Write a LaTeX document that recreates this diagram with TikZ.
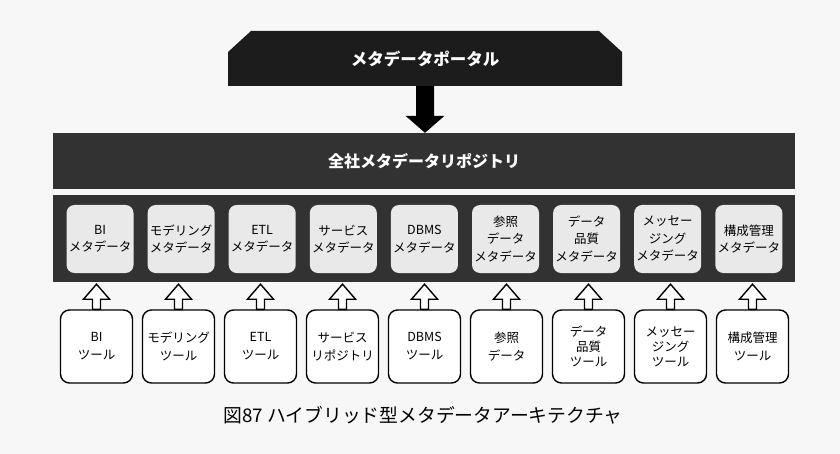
\documentclass[tikz,border=0pt]{standalone}
\usepackage{fontspec}
\setmainfont{Noto Sans CJK JP}
\usepackage{tikz}
\usetikzlibrary{calc}

\definecolor{portalGray}{HTML}{1C1C1C}
\definecolor{barGray}{HTML}{323232}
\definecolor{boxGray}{HTML}{E9E9E9}
\definecolor{paper}{HTML}{F7F7F7}

\tikzset{
  metaBox/.style={fill=boxGray, rounded corners=8pt, minimum width=67pt, minimum height=68pt,
    inner sep=0pt, align=center, font=\fontsize{12.5}{17.5}\selectfont},
  toolBox/.style={draw, line width=1.4pt, fill=white, rounded corners=9pt, minimum width=72pt,
    minimum height=73pt, inner sep=0pt, align=center, font=\fontsize{12.5}{18}\selectfont},
  tight/.style={font=\fontsize{12.5}{15}\selectfont},
  blockArrow/.style n args={3}{to path={let \p1=(\tikztostart), \p2=(\tikztotarget) in
    ({\x1-#1},\y1) -- ({\x1-#1},{\y2+(#3)}) -- ({\x1-#2},{\y2+(#3)}) -- (\x1,\y2)
    -- ({\x1+#2},{\y2+(#3)}) -- ({\x1+#1},{\y2+(#3)}) -- ({\x1+#1},\y1) -- cycle}},
  toolArrow/.style={draw, line width=1.4pt, fill=white, line join=miter, blockArrow={4pt}{13pt}{-15pt}},
}

\begin{document}
\begin{tikzpicture}[x=1pt, y=-1pt]
    \fill[paper] (0,0) rectangle (840,454);
    \useasboundingbox (0,0) rectangle (840,454);

    \node (portal) at (425,58.5) [fill=paper, minimum width=394pt, minimum height=55pt,
      text=white, font=\fontsize{16.5}{20}\selectfont\bfseries,
      path picture={\fill[portalGray] (path picture bounding box.south west)
        -- ([yshift=-21pt]path picture bounding box.north west)
        -- ([xshift=23pt]path picture bounding box.north west)
        -- ([xshift=-23pt]path picture bounding box.north east)
        -- ([yshift=-21pt]path picture bounding box.north east)
        -- (path picture bounding box.south east) -- cycle;}] {メタデータポータル};
    \node (repository) at (424,161) [fill=barGray, minimum width=742pt, minimum height=56pt,
      text=white, font=\fontsize{16}{20}\selectfont\bfseries] {全社メタデータリポジトリ};
    \node (lowerBar) at (424,238.5) [fill=barGray, minimum width=742pt, minimum height=87pt] {};

    \node[metaBox] (biMeta) at (100,239) {BI\\メタデータ};
    \node[metaBox] (modelingMeta) at (181.1,239) {モデリング\\メタデータ};
    \node[metaBox] (etlMeta) at (262.2,239) {ETL\\メタデータ};
    \node[metaBox] (serviceMeta) at (343.3,239) {サービス\\メタデータ};
    \node[metaBox] (dbmsMeta) at (424.4,239) {DBMS\\メタデータ};
    \node[metaBox] (referenceMeta) at (505.5,239) {参照\\データ\\メタデータ};
    \node[metaBox] (qualityMeta) at (586.6,239) {データ\\品質\\メタデータ};
    \node[metaBox] (messagingMeta) at (667.7,239) {メッセー\\ジング\\メタデータ};
    \node[metaBox] (configMeta) at (748.8,239) {構成管理\\メタデータ};

    \node[toolBox] (biTool) at (96.5,346.5) {BI\\ツール};
    \node[toolBox] (modelingTool) at (178.5,346.5) {モデリング\\ツール};
    \node[toolBox] (etlTool) at (260.5,346.5) {ETL\\ツール};
    \node[toolBox] (serviceTool) at (342.5,346.5) {サービス\\リポジトリ};
    \node[toolBox] (dbmsTool) at (424.5,346.5) {DBMS\\ツール};
    \node[toolBox] (referenceTool) at (506.5,346.5) {参照\\データ};
    \node[toolBox, tight] (qualityTool) at (588.5,346.5) {データ\\品質\\ツール};
    \node[toolBox, tight] (messagingTool) at (670.5,346.5) {メッセー\\ジング\\ツール};
    \node[toolBox] (configTool) at (752.5,346.5) {構成管理\\ツール};

    \node (caption) at (423,415) [font=\fontsize{18.8}{22}\selectfont] {図87 ハイブリッド型メタデータアーキテクチャ};


\fill[black, blockArrow={9pt}{19.5pt}{17pt}] (portal.south) to (repository.north);
\path[toolArrow] (biTool.north) to ([yshift=-2pt]biTool.north |- lowerBar.south);
\path[toolArrow] (modelingTool.north) to ([yshift=-2pt]modelingTool.north |- lowerBar.south);
\path[toolArrow] (etlTool.north) to ([yshift=-2pt]etlTool.north |- lowerBar.south);
\path[toolArrow] (serviceTool.north) to ([yshift=-2pt]serviceTool.north |- lowerBar.south);
\path[toolArrow] (dbmsTool.north) to ([yshift=-2pt]dbmsTool.north |- lowerBar.south);
\path[toolArrow] (referenceTool.north) to ([yshift=-2pt]referenceTool.north |- lowerBar.south);
\path[toolArrow] (qualityTool.north) to ([yshift=-2pt]qualityTool.north |- lowerBar.south);
\path[toolArrow] (messagingTool.north) to ([yshift=-2pt]messagingTool.north |- lowerBar.south);
\path[toolArrow] (configTool.north) to ([yshift=-2pt]configTool.north |- lowerBar.south);

\end{tikzpicture}
\end{document}
